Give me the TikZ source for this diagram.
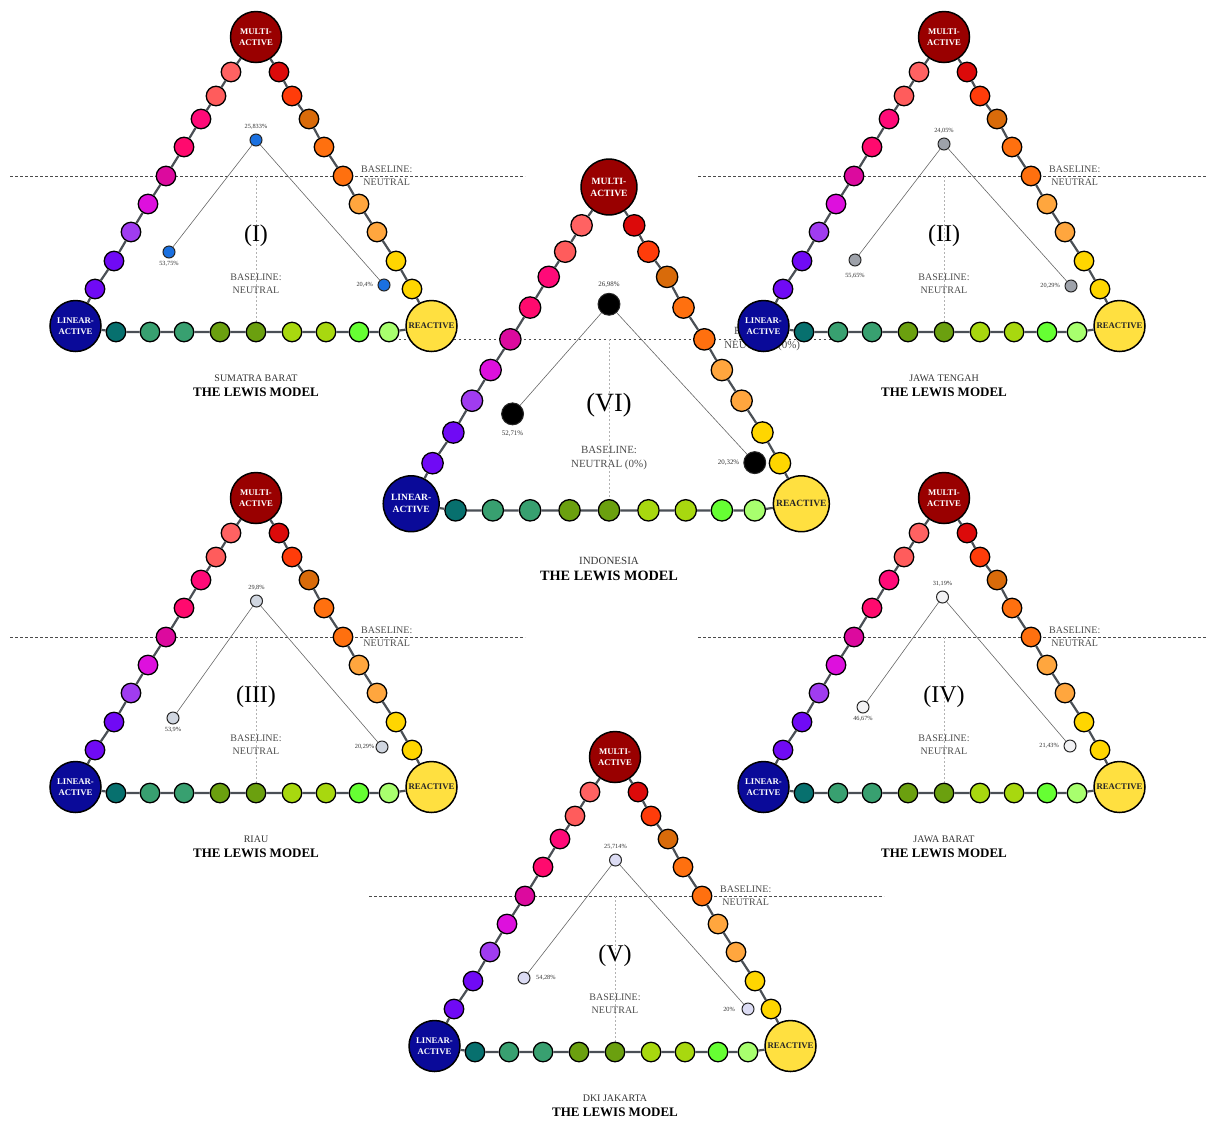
\documentclass[tikz,border=0pt]{standalone}
\usepackage{fontspec}
\setmainfont{Liberation Serif}
\usepackage{tikz}
\usetikzlibrary{calc,positioning}

%Farben der Kette
\definecolor{multi}{HTML}{990000}
\definecolor{linear}{HTML}{0A0A99}
\definecolor{reaktiv}{HTML}{FFE040}
\definecolor{l1}{HTML}{FF6262}\definecolor{l2}{HTML}{FF5C5C}\definecolor{l3}{HTML}{FF0A78}
\definecolor{l4}{HTML}{FF0A6E}\definecolor{l5}{HTML}{DC0A9E}\definecolor{l6}{HTML}{DD10DD}
\definecolor{l7}{HTML}{A03CF0}\definecolor{l8}{HTML}{700AF5}\definecolor{l9}{HTML}{700AF5}
\definecolor{r1}{HTML}{DC0A0A}\definecolor{r2}{HTML}{FF3C0A}\definecolor{r3}{HTML}{D96B0A}
\definecolor{r4}{HTML}{FF700F}\definecolor{r5}{HTML}{FF700F}\definecolor{r6}{HTML}{FFA63E}
\definecolor{r7}{HTML}{FFA63E}\definecolor{r8}{HTML}{FFD600}\definecolor{r9}{HTML}{FFD600}
\definecolor{b1}{HTML}{07706E}\definecolor{b2}{HTML}{38A070}\definecolor{b3}{HTML}{38A070}
\definecolor{b4}{HTML}{6BA00F}\definecolor{b5}{HTML}{6BA00F}\definecolor{b6}{HTML}{A8D80F}
\definecolor{b7}{HTML}{A8D80F}\definecolor{b8}{HTML}{66FF33}\definecolor{b9}{HTML}{A8FF6E}
\definecolor{kettengrau}{HTML}{4A4F55}
%Farben der Werte
\definecolor{pI}{HTML}{1A70E0}
\definecolor{pII}{HTML}{9EA2AA}
\definecolor{pIII}{HTML}{D0D6E0}
\definecolor{pIV}{HTML}{F2F2F4}
\definecolor{pV}{HTML}{DCDCF4}

\tikzset{
  kreis/.style={circle,draw=black,line width=1.3pt,minimum size=19.5pt,inner sep=0pt},
  gross/.style={circle,draw=black,line width=1.5pt,minimum size=51pt,inner sep=0pt,align=center,
    font=\fontsize{8.7}{11}\selectfont\bfseries},
  kette/.style={draw=kettengrau,line width=2.2pt},
  basis/.style={draw=black!70,line width=0.6pt,dash pattern=on 2.5pt off 2.5pt},
  lot/.style={draw=black!30,line width=1pt,dash pattern=on 2pt off 2pt},
  punkt/.style={circle,draw=black!85,line width=1pt,minimum size=12pt,inner sep=0pt},
  wert/.style={draw=black!60,line width=0.6pt},
  prozent/.style={inner sep=0.5pt,text=black!80,font=\fontsize{6.3}{7}\selectfont},
  basistext/.style={align=center,inner sep=0pt,text=black!70,font=\fontsize{10}{13}\selectfont},
  nummer/.style={inner sep=0pt,font=\fontsize{24}{26}\selectfont},
  region/.style={inner sep=0pt,text=black!80,font=\fontsize{10}{12}\selectfont},
  titel/.style={inner sep=0pt,font=\fontsize{13}{15}\selectfont\bfseries}
}

%#1 Name, #2 Provinz, #3 Nummer, #4/#5 Baseline-Texte, #6/#7 gestrichelte Linie
\newcommand{\lewisdreieck}[7]{%
  \draw[basis] (#6,139) -- (#7,139);
  \draw[lot] (0,139) -- (0,295);
  \node[gross,fill=multi,text=white] (#1M) at (0,0) {MULTI-\\ACTIVE};
  \node[gross,fill=linear,text=white] (#1L) at (-180.5,289) {LINEAR-\\ACTIVE};
  \node[gross,fill=reaktiv,text=black!85] (#1R) at (175.5,289) {REACTIVE};
  \foreach \k/\x/\y in {1/-25/35,2/-40/59,3/-55/82,4/-72/110,5/-90/139,6/-108/167,7/-125/195,8/-142/224,9/-161/252}
    \node[kreis,fill=l\k] (#1l\k) at (\x,\y) {};
  \foreach \k/\x/\y in {1/23/35,2/36/59,3/53/82,4/68/110,5/87/139,6/103/167,7/121/195,8/140/224,9/156/252}
    \node[kreis,fill=r\k] (#1r\k) at (\x,\y) {};
  \foreach \k/\x in {1/-140,2/-106,3/-72,4/-36,5/0,6/36,7/70,8/103,9/133}
    \node[kreis,fill=b\k] (#1b\k) at (\x,295) {};
  \foreach \k in {1,...,8}{
    \pgfmathtruncatemacro\n{\k+1}
    \draw[kette] (#1l\k) -- (#1l\n) (#1r\k) -- (#1r\n) (#1b\k) -- (#1b\n);
  }
  \draw[kette] (#1M) -- (#1l1) (#1l9) -- (#1L) (#1L) -- (#1b1) (#1b9) -- (#1R) (#1R) -- (#1r9) (#1r1) -- (#1M);
  \node[nummer] (#1num) at (0,199) {#3};
  \node[basistext] (#1bi) at (0,247) {#4};
  \node[basistext,anchor=west] (#1br) at (105,139) {#5};
  \node[region] (#1reg) at (0,341) {#2};
  \node[titel] (#1tit) at (0,355) {THE LEWIS MODEL};
}

\begin{document}
\begin{tikzpicture}[x=1pt,y=-1pt]
\useasboundingbox (0,0) rectangle (1206,1120);

%(VI) Indonesia, etwas groesser
\begin{scope}[shift={(609,187)},scale=1.096,transform shape]
  \lewisdreieck{VI}{INDONESIA}{(VI)}{BASELINE:\\NEUTRAL (0\%)}{BASELINE:\\NEUTRAL (0\%)}{-192}{209}
  \node[punkt,fill=black,minimum size=20pt] (VIa) at (0,107) {};
  \node[punkt,fill=black,minimum size=20pt] (VIb) at (-88,207) {};
  \node[punkt,fill=black,minimum size=20pt] (VIc) at (133,251.5) {};
  \draw[wert] (VIa) -- (VIb) (VIa) -- (VIc);
  \node[prozent,above=4pt of VIa] (VIat) {26,98\%};
  \node[prozent,below=4pt of VIb] (VIbt) {52,71\%};
  \node[prozent,left=3pt of VIc] (VIct) {20,32\%};
\end{scope}

%(I)
\begin{scope}[shift={(256,37)}]
  \lewisdreieck{I}{SUMATRA BARAT}{(I)}{BASELINE:\\NEUTRAL}{BASELINE:\\NEUTRAL}{-246}{269}
  \node[punkt,fill=pI] (Ia) at (0,103) {};
  \node[punkt,fill=pI] (Ib) at (-87,215) {};
  \node[punkt,fill=pI] (Ic) at (128,248) {};
  \draw[wert] (Ia) -- (Ib) (Ia) -- (Ic);
  \node[prozent,above=3pt of Ia] (Iat) {25,833\%};
  \node[prozent,below=2.5pt of Ib] (Ibt) {53,75\%};
  \node[prozent,left=4pt of Ic] (Ict) {20,4\%};
\end{scope}

%(II)
\begin{scope}[shift={(944,37)}]
  \lewisdreieck{II}{JAWA TENGAH}{(II)}{BASELINE:\\NEUTRAL}{BASELINE:\\NEUTRAL}{-246}{269}
  \node[punkt,fill=pII] (IIa) at (0,107) {};
  \node[punkt,fill=pII] (IIb) at (-89,223) {};
  \node[punkt,fill=pII] (IIc) at (127,249) {};
  \draw[wert] (IIa) -- (IIb) (IIa) -- (IIc);
  \node[prozent,above=3pt of IIa] (IIat) {24,05\%};
  \node[prozent,below=6pt of IIb] (IIbt) {55,65\%};
  \node[prozent,left=4pt of IIc] (IIct) {20,29\%};
\end{scope}

%(III)
\begin{scope}[shift={(256,498)}]
  \lewisdreieck{III}{RIAU}{(III)}{BASELINE:\\NEUTRAL}{BASELINE:\\NEUTRAL}{-246}{269}
  \node[punkt,fill=pIII] (IIIa) at (0.5,103) {};
  \node[punkt,fill=pIII] (IIIb) at (-83,220) {};
  \node[punkt,fill=pIII] (IIIc) at (126,249) {};
  \draw[wert] (IIIa) -- (IIIb) (IIIa) -- (IIIc);
  \node[prozent,above=3pt of IIIa] (IIIat) {29,8\%};
  \node[prozent,below=2.5pt of IIIb] (IIIbt) {53,9\%};
  \node[prozent,left=0.5pt of IIIc] (IIIct) {20,29\%};
\end{scope}

%(IV)
\begin{scope}[shift={(944,498)}]
  \lewisdreieck{IV}{JAWA BARAT}{(IV)}{BASELINE:\\NEUTRAL}{BASELINE:\\NEUTRAL}{-246}{269}
  \node[punkt,fill=pIV] (IVa) at (-1.5,99) {};
  \node[punkt,fill=pIV] (IVb) at (-81,209) {};
  \node[punkt,fill=pIV] (IVc) at (126,248) {};
  \draw[wert] (IVa) -- (IVb) (IVa) -- (IVc);
  \node[prozent,above=3pt of IVa] (IVat) {31,19\%};
  \node[prozent,below=2.5pt of IVb] (IVbt) {46,67\%};
  \node[prozent,left=4pt of IVc] (IVct) {21,43\%};
\end{scope}

%(V)
\begin{scope}[shift={(615,757)}]
  \lewisdreieck{V}{DKI JAKARTA}{(V)}{BASELINE:\\NEUTRAL}{BASELINE:\\NEUTRAL}{-246}{269}
  \node[punkt,fill=pV] (Va) at (0.5,103) {};
  \node[punkt,fill=pV] (Vb) at (-91,221) {};
  \node[punkt,fill=pV] (Vc) at (133,252) {};
  \draw[wert] (Va) -- (Vb) (Va) -- (Vc);
  \node[prozent,above=3pt of Va] (Vat) {25,714\%};
  \node[prozent,right=5pt of Vb] (Vbt) {54,28\%};
  \node[prozent,left=6pt of Vc] (Vct) {20\%};
\end{scope}
\end{tikzpicture}
\end{document}
